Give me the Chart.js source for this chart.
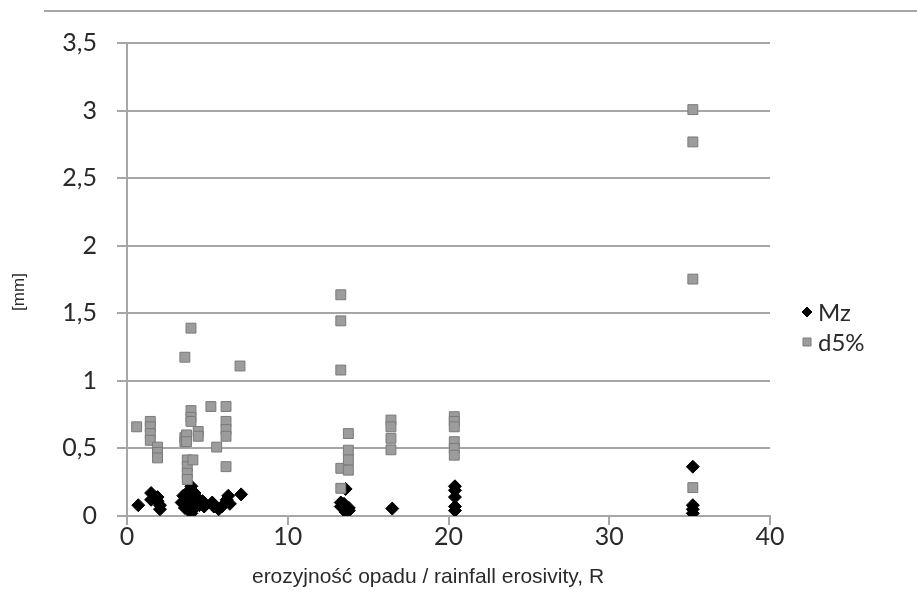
<!DOCTYPE html>
<html><head><meta charset="utf-8">
<script src="https://cdn.jsdelivr.net/npm/chart.js@4/dist/chart.umd.min.js"></script>
<style>
html,body{margin:0;padding:0;background:#fff;}
#wrap{position:relative;width:917px;height:614px;overflow:hidden;}
#topline{position:absolute;left:44px;right:0;top:10px;height:0;border-top:2px solid #a6a6a6;}
canvas{display:block;}
</style></head><body>
<div id="wrap"><canvas id="c" width="917" height="614"></canvas><div id="topline"></div></div>
<script>
// Series "Mz"
const mzX = [0.7,1.5,1.5,1.9,1.9,2.05,2.05,
  3.4,3.5,3.6,3.7,3.8,3.9,3.9,4.0,4.0,4.0,4.1,4.2,4.2,4.3,4.4,4.5,4.7,4.8,
  5.3,5.4,5.7,5.9,6.2,6.3,6.4,7.1,
  13.3,13.3,13.5,13.5,13.6,13.8,13.8,13.6,
  16.5,
  20.4,20.4,20.4,20.4,20.4,
  35.2,35.2,35.2,35.2];
const mzY = [0.08,0.17,0.12,0.11,0.14,0.05,0.08,
  0.10,0.15,0.06,0.12,0.18,0.04,0.09,0.22,0.14,0.02,0.11,0.17,0.06,0.10,0.13,0.08,0.11,0.07,
  0.10,0.07,0.05,0.07,0.12,0.15,0.09,0.16,
  0.10,0.07,0.09,0.06,0.03,0.04,0.06,0.20,
  0.055,
  0.22,0.19,0.14,0.07,0.04,
  0.365,0.08,0.05,0.02];
// Series "d5%"
const d5X = [0.6,1.45,1.45,1.45,1.45,1.9,1.9,1.9,
  3.6,3.6,3.6,3.7,3.7,3.75,3.75,3.75,3.75,3.98,3.98,3.98,3.98,4.1,4.43,4.43,
  5.22,5.58,6.16,6.16,6.16,6.16,6.16,7.03,
  13.3,13.3,13.3,13.3,13.3,13.77,13.77,13.77,13.77,
  16.42,16.42,16.42,16.42,
  20.36,20.36,20.36,20.36,20.36,20.36,
  35.2,35.2,35.2,35.2];
const d5Y = [0.66,0.70,0.66,0.61,0.56,0.51,0.47,0.43,
  1.175,0.58,0.55,0.60,0.55,0.415,0.365,0.316,0.27,1.39,0.78,0.73,0.70,0.415,0.625,0.59,
  0.81,0.51,0.81,0.70,0.64,0.59,0.365,1.11,
  1.637,1.444,1.08,0.353,0.205,0.61,0.487,0.415,0.339,
  0.71,0.66,0.575,0.49,
  0.735,0.70,0.66,0.55,0.50,0.45,
  3.007,2.768,1.753,0.21];
const seriesNames = ['Mz','d5%'];
const xTickLabels = ['0','10','20','30','40'];
const yTickLabels = ['0','0,5','1','1,5','2','2,5','3','3,5'];
const xTitle = 'erozyjność opadu / rainfall erosivity, R';
const yTitle = '[mm]';

const toPts = (xs, ys) => xs.map((x, i) => ({x: x, y: ys[i]}));
const tickFont = {family: 'Lato, "Open Sans", sans-serif', size: 25};
const gridCol = '#a6a6a6';
const textCol = '#2a2a2a';

const extras = {
  id: 'extras',
  afterDraw(chart) {
    const ctx = chart.ctx;
    ctx.save();
    // axis titles
    ctx.fillStyle = textCol;
    ctx.font = '21px "Liberation Sans", Arial, sans-serif';
    ctx.textAlign = 'center';
    ctx.textBaseline = 'middle';
    ctx.fillText(xTitle, 428, 577);
    ctx.save();
    ctx.translate(19, 292);
    ctx.rotate(-Math.PI / 2);
    ctx.font = '17px "Liberation Sans", Arial, sans-serif';
    ctx.fillText(yTitle, 0, 0);
    ctx.restore();
    // legend
    const items = chart.data.datasets;
    const lx = 807, ly = [312, 342];
    items.forEach((ds, i) => {
      const y = ly[i];
      ctx.beginPath();
      if (ds.pointStyle === 'rectRot') {
        ctx.moveTo(lx, y - 5); ctx.lineTo(lx + 5, y); ctx.lineTo(lx, y + 5); ctx.lineTo(lx - 5, y); ctx.closePath();
      } else {
        ctx.rect(lx - 4, y - 4, 8, 8);
      }
      ctx.fillStyle = ds.backgroundColor; ctx.fill();
      ctx.lineWidth = 1; ctx.strokeStyle = ds.borderColor; ctx.stroke();
      ctx.fillStyle = textCol;
      ctx.textAlign = 'left';
      ctx.font = '24px Lato, "Open Sans", sans-serif';
      ctx.fillText(ds.label, lx + 11, y + 1);
    });
    ctx.restore();
  }
};

new Chart(document.getElementById('c'), {
  type: 'scatter',
  data: {
    datasets: [
      {label: seriesNames[0], data: toPts(mzX, mzY), pointStyle: 'rectRot', pointRadius: 6.5,
        backgroundColor: '#000', borderColor: '#000', borderWidth: 1, order: 2},
      {label: seriesNames[1], data: toPts(d5X, d5Y), pointStyle: 'rect', pointRadius: 7,
        backgroundColor: '#9c9c9c', borderColor: '#7a7a7a', borderWidth: 1, order: 1}
    ]
  },
  options: {
    responsive: false, animation: false, devicePixelRatio: 1,
    layout: {padding: {left: 0, top: 43, right: 147, bottom: 0}},
    plugins: {legend: {display: false}, tooltip: {enabled: false}},
    scales: {
      x: {
        type: 'linear', min: 0, max: 40,
        afterFit(s) { s.height = 98; },
        ticks: {stepSize: 10, color: textCol, font: tickFont, padding: -3,
          callback: (v, i) => xTickLabels[i]},
        grid: {drawOnChartArea: false, drawTicks: true, tickLength: 9, color: gridCol, lineWidth: 2},
        border: {display: true, color: gridCol, width: 2}
      },
      y: {
        type: 'linear', min: 0, max: 3.5,
        afterFit(s) { s.width = 127; },
        ticks: {stepSize: 0.5, color: textCol, font: tickFont, padding: 20,
          callback: (v, i) => yTickLabels[i]},
        grid: {drawTicks: true, tickLength: 10, color: gridCol, lineWidth: 2},
        border: {display: true, color: gridCol, width: 2}
      }
    }
  },
  plugins: [extras]
});
</script>
</body></html>
